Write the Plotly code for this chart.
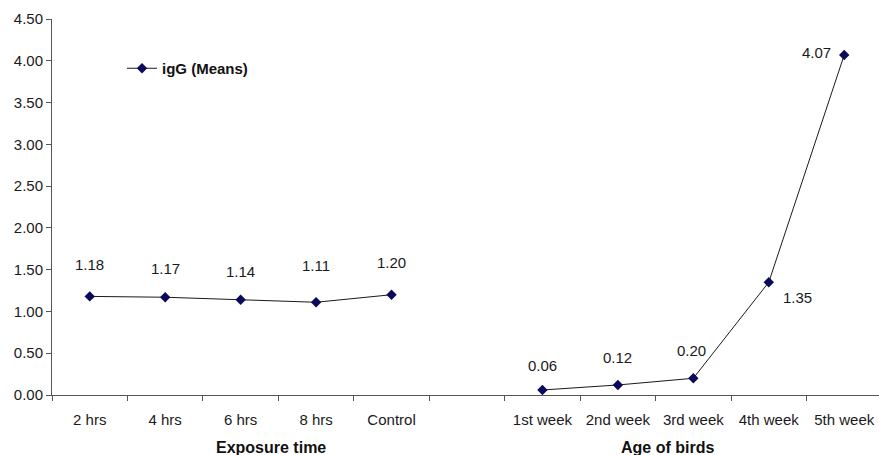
import plotly.graph_objects as go

categories = ["2 hrs", "4 hrs", "6 hrs", "8 hrs", "Control", " ",
              "1st week", "2nd week", "3rd week", "4th week", "5th week"]
igg_means = [1.18, 1.17, 1.14, 1.11, 1.20, None, 0.06, 0.12, 0.20, 1.35, 4.07]
y_ticks = [0, 0.5, 1.0, 1.5, 2.0, 2.5, 3.0, 3.5, 4.0, 4.5]
group_titles = ["Exposure time", "Age of birds"]

# label offsets (pixels) for the data labels: (dx, dy)
label_offsets = [(0, 32), (0, 29), (0, 28), (0, 37), (0, 32), None,
                 (0, 24), (0, 27), (-2, 28), (29, -15), (-28, 2)]

FONT = "Liberation Sans, Arial, sans-serif"
W, H = 879, 455
L, R, T, B = 52, 0, 19, 60
plot_w = W - L - R
plot_h = H - T - B
cat_w = 75.45
x_end = -0.5 + plot_w / cat_w

fig = go.Figure()
fig.add_trace(go.Scatter(
    x=categories, y=igg_means, mode="lines+markers", name="<b>igG (Means)</b>",
    line=dict(color="#1a1a1a", width=1),
    marker=dict(symbol="diamond", size=8, color="#0a0a5a"),
    connectgaps=False,
))

annotations = []
for cat, val, off in zip(categories, igg_means, label_offsets):
    if val is None:
        continue
    annotations.append(dict(
        x=cat, y=val, xref="x", yref="y", text=f"{val:.2f}", showarrow=False,
        xshift=off[0], yshift=off[1],
        font=dict(family=FONT, size=15, color="#1a1a1a"),
    ))

# group titles (pixel centres converted to paper coords)
for title, px in zip(group_titles, [271, 667]):
    annotations.append(dict(
        x=(px - L) / plot_w, y=1 - (447 - T) / plot_h,
        xref="paper", yref="paper", text=f"<b>{title}</b>", showarrow=False,
        xanchor="center", yanchor="middle",
        font=dict(family=FONT, size=16, color="#111"),
    ))

fig.update_layout(
    width=W, height=H,
    margin=dict(l=L, r=R, t=T, b=B),
    paper_bgcolor="white", plot_bgcolor="white",
    font=dict(family=FONT, size=15, color="#1a1a1a"),
    showlegend=True,
    legend=dict(x=(122 - L) / plot_w, y=1 - (52 - T) / plot_h,
                xanchor="left", yanchor="top",
                bgcolor="rgba(0,0,0,0)",
                font=dict(family=FONT, size=15, color="#111"),
                itemwidth=30),
    annotations=annotations,
    xaxis=dict(
        type="category", categoryorder="array", categoryarray=categories,
        range=[-0.5, x_end], showgrid=False, zeroline=False,
        showline=True, linecolor="#555", linewidth=1,
        ticks="outside", ticklen=5, tickcolor="#555", tickson="boundaries",
        tickfont=dict(family=FONT, size=15, color="#1a1a1a"),
        ticklabelstandoff=11,
    ),
    yaxis=dict(
        range=[0, 4.5], tickvals=y_ticks,
        ticktext=[f"{v:.2f}" for v in y_ticks],
        showgrid=False, zeroline=False,
        showline=True, linecolor="#555", linewidth=1,
        ticks="outside", ticklen=5, tickcolor="#555",
        tickfont=dict(family=FONT, size=15, color="#1a1a1a"),
    ),
)

fig.write_html("out.html")
